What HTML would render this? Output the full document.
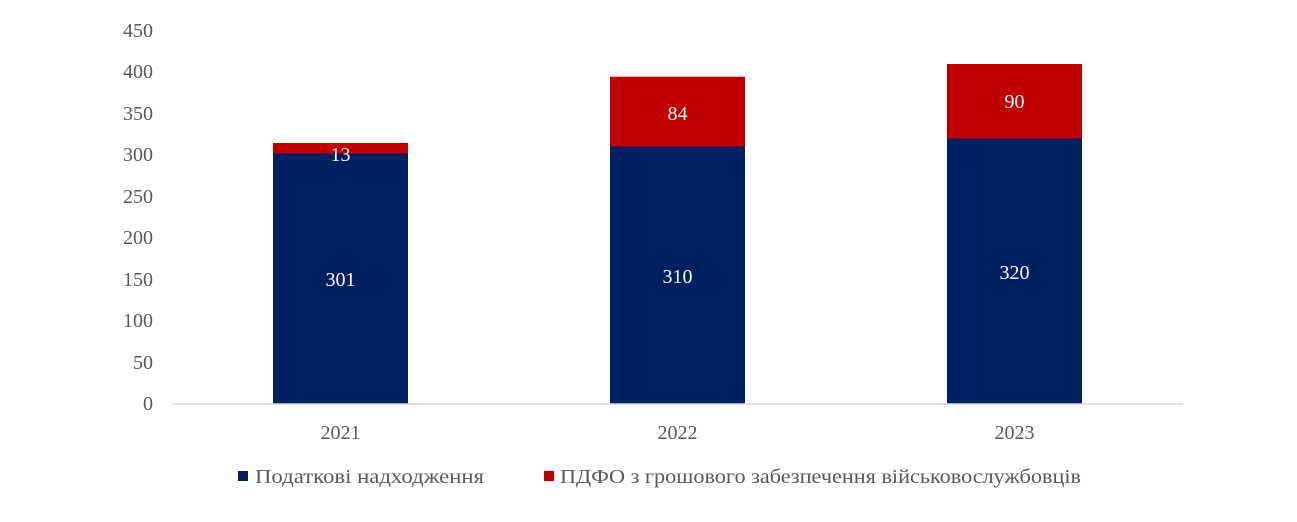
<!DOCTYPE html>
<html><head><meta charset="utf-8"><style>
html,body{margin:0;padding:0;background:#fff;}
</style></head><body>
<svg width="1297" height="517" xmlns="http://www.w3.org/2000/svg" font-family="Liberation Serif, DejaVu Serif, serif">
<g fill="#595959" font-size="20" text-anchor="end">
<text x="153" y="410">0</text>
<text x="153" y="369">50</text>
<text x="153" y="327">100</text>
<text x="153" y="286">150</text>
<text x="153" y="244">200</text>
<text x="153" y="203">250</text>
<text x="153" y="161">300</text>
<text x="153" y="120">350</text>
<text x="153" y="78">400</text>
<text x="153" y="37">450</text>
</g>
<rect x="273" y="153.5" width="135" height="250" fill="#002060"/>
<rect x="273" y="143" width="135" height="10.5" fill="#C00000"/>
<rect x="610" y="146.5" width="135" height="257" fill="#002060"/>
<rect x="610" y="76.7" width="135" height="69.8" fill="#C00000"/>
<rect x="947" y="138.5" width="135" height="265" fill="#002060"/>
<rect x="947" y="64" width="135" height="74.5" fill="#C00000"/>
<line x1="172" y1="404" x2="1183" y2="404" stroke="#D9D9D9" stroke-width="1.5"/>
<g fill="#fff" font-size="20" text-anchor="middle">
<text x="340.5" y="286">301</text>
<text x="340.5" y="161">13</text>
<text x="677.5" y="283">310</text>
<text x="677.5" y="120">84</text>
<text x="1014.5" y="279">320</text>
<text x="1014.5" y="108">90</text>
</g>
<g fill="#595959" font-size="20" text-anchor="middle">
<text x="340.5" y="439">2021</text>
<text x="677.5" y="439">2022</text>
<text x="1014.5" y="439">2023</text>
</g>
<rect x="238" y="471" width="10" height="10" fill="#002060"/>
<rect x="544" y="471" width="10" height="10" fill="#C00000"/>
<g fill="#595959" font-size="20">
<text x="255" y="483" textLength="229" lengthAdjust="spacingAndGlyphs">Податкові надходження</text>
<text x="560" y="483" textLength="521" lengthAdjust="spacingAndGlyphs">ПДФО з грошового забезпечення військовослужбовців</text>
</g>
</svg>
</body></html>
